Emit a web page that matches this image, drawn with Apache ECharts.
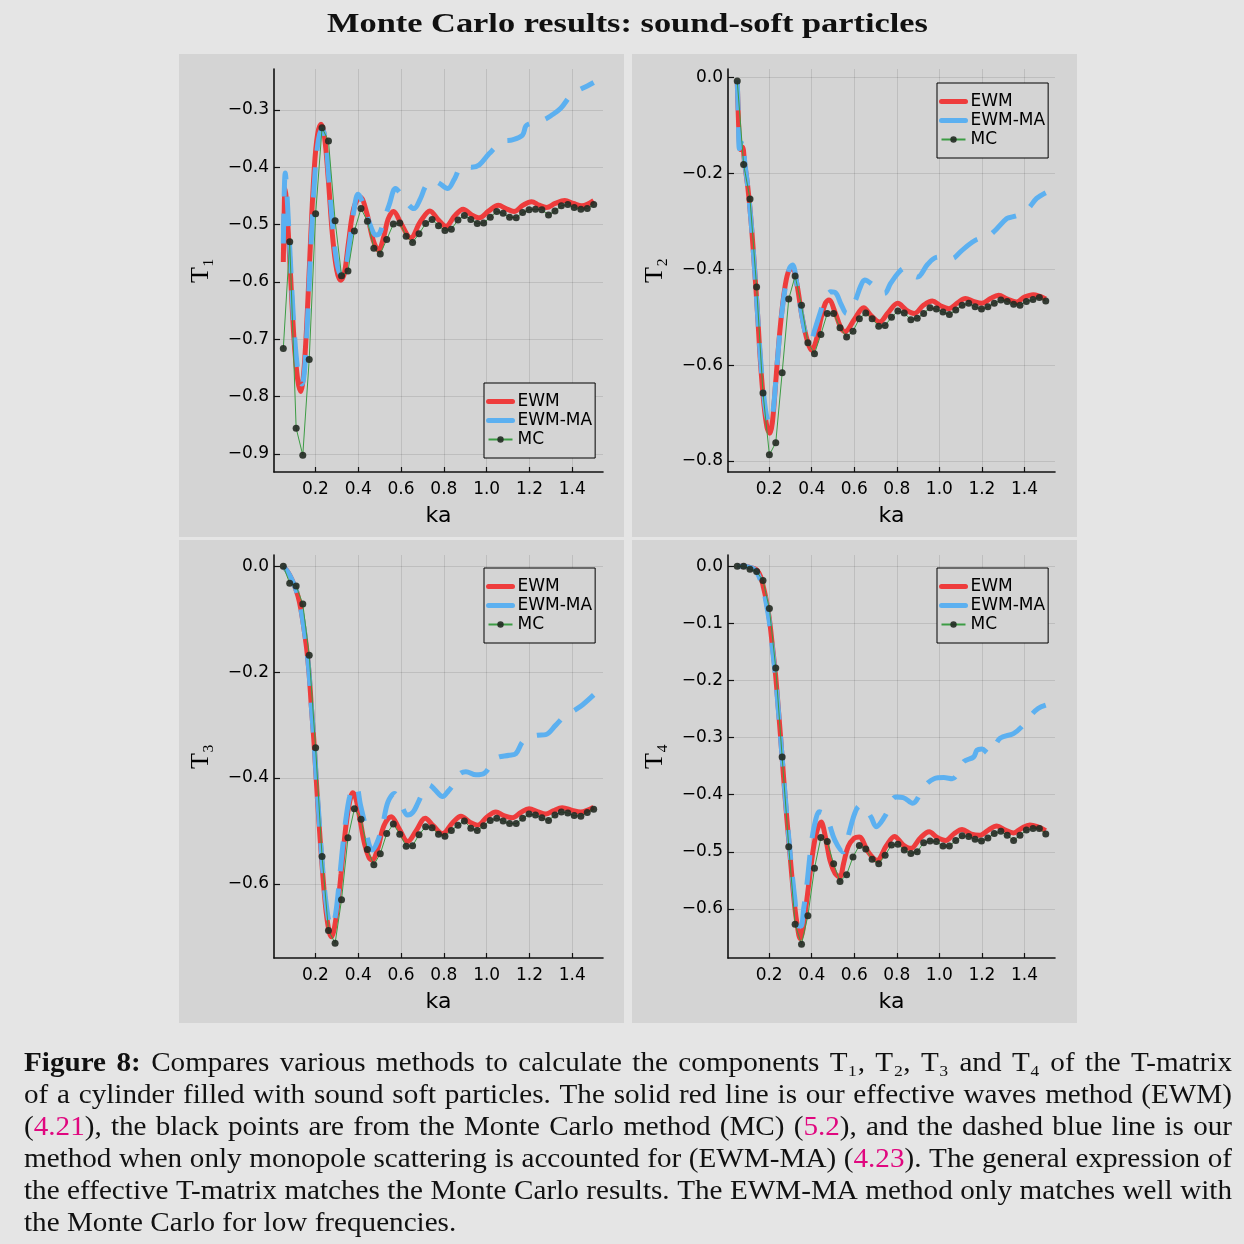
<!DOCTYPE html>
<html><head><meta charset="utf-8">
<script src="https://cdn.jsdelivr.net/npm/echarts@6.0.0/dist/echarts.min.js"></script>
<style>html,body{margin:0;padding:0;background:#e5e5e5}#c{width:1244px;height:1244px}</style>
</head><body><div id="c"></div>
<script>
// ---------------- DATA ----------------
const xTicks = [0.2, 0.4, 0.6, 0.8, 1.0, 1.2, 1.4];
const yTicks1 = [-0.9, -0.8, -0.7, -0.6, -0.5, -0.4, -0.3];
const yTicks2 = [-0.8, -0.6, -0.4, -0.2, 0.0];
const yTicks3 = [-0.6, -0.4, -0.2, 0.0];
const yTicks4 = [-0.6, -0.5, -0.4, -0.3, -0.2, -0.1, 0.0];

const kaMC = [0.050,0.080,0.110,0.141,0.171,0.201,0.231,0.261,0.292,0.322,0.352,0.382,0.413,0.443,0.473,0.503,0.533,0.564,0.594,0.624,0.654,0.684,0.715,0.745,0.775,0.805,0.835,0.866,0.896,0.926,0.956,0.986,1.017,1.047,1.077,1.107,1.138,1.168,1.198,1.228,1.258,1.289,1.319,1.349,1.379,1.409,1.440,1.470,1.500];

const t1MC = [-0.716,-0.530,-0.855,-0.902,-0.735,-0.481,-0.331,-0.354,-0.493,-0.589,-0.581,-0.511,-0.472,-0.494,-0.541,-0.551,-0.526,-0.499,-0.497,-0.520,-0.531,-0.516,-0.498,-0.491,-0.502,-0.510,-0.508,-0.492,-0.484,-0.491,-0.498,-0.497,-0.487,-0.477,-0.480,-0.487,-0.488,-0.479,-0.474,-0.473,-0.474,-0.483,-0.476,-0.467,-0.465,-0.470,-0.473,-0.472,-0.465];
const t2MC = [-0.007,-0.181,-0.253,-0.437,-0.658,-0.787,-0.762,-0.616,-0.462,-0.414,-0.475,-0.553,-0.576,-0.536,-0.492,-0.492,-0.522,-0.541,-0.529,-0.503,-0.491,-0.503,-0.519,-0.517,-0.500,-0.487,-0.491,-0.505,-0.502,-0.492,-0.480,-0.483,-0.489,-0.494,-0.485,-0.475,-0.471,-0.478,-0.483,-0.478,-0.471,-0.464,-0.467,-0.473,-0.475,-0.467,-0.463,-0.459,-0.466];
const t3MC = [0.000,-0.032,-0.037,-0.071,-0.168,-0.343,-0.548,-0.688,-0.712,-0.630,-0.513,-0.458,-0.478,-0.535,-0.564,-0.543,-0.505,-0.487,-0.506,-0.529,-0.528,-0.507,-0.492,-0.494,-0.506,-0.510,-0.499,-0.489,-0.481,-0.495,-0.499,-0.490,-0.480,-0.476,-0.481,-0.486,-0.486,-0.476,-0.468,-0.470,-0.475,-0.480,-0.470,-0.464,-0.466,-0.471,-0.472,-0.465,-0.459];
const t4MC = [0.000,0.000,-0.005,-0.009,-0.025,-0.074,-0.178,-0.334,-0.491,-0.627,-0.662,-0.612,-0.529,-0.475,-0.482,-0.521,-0.552,-0.540,-0.509,-0.489,-0.495,-0.513,-0.521,-0.506,-0.488,-0.487,-0.497,-0.503,-0.500,-0.484,-0.481,-0.482,-0.490,-0.490,-0.480,-0.472,-0.473,-0.478,-0.481,-0.476,-0.468,-0.464,-0.471,-0.480,-0.471,-0.462,-0.459,-0.459,-0.469];

// panel 1
const t1EwmKa = [0.050,0.054,0.058,0.064,0.080,0.100,0.117,0.131,0.145,0.160,0.177,0.195,0.210,0.226,0.242,0.260,0.280,0.300,0.318,0.335,0.355,0.380,0.410,0.440,0.470,0.495,0.520,0.540,0.565,0.600,0.645,0.690,0.735,0.775,0.810,0.850,0.890,0.930,0.966,1.010,1.055,1.090,1.128,1.170,1.210,1.245,1.280,1.320,1.365,1.405,1.445,1.500];
const t1Ewm   = [-0.565,-0.480,-0.437,-0.455,-0.560,-0.700,-0.770,-0.791,-0.760,-0.670,-0.530,-0.400,-0.343,-0.325,-0.345,-0.420,-0.520,-0.580,-0.597,-0.585,-0.530,-0.470,-0.452,-0.480,-0.527,-0.545,-0.520,-0.490,-0.477,-0.498,-0.523,-0.495,-0.476,-0.492,-0.503,-0.485,-0.473,-0.483,-0.488,-0.476,-0.466,-0.472,-0.477,-0.466,-0.460,-0.466,-0.470,-0.463,-0.458,-0.463,-0.467,-0.458];
const t1MaKa  = [0.050,0.054,0.059,0.066,0.080,0.100,0.120,0.137,0.150,0.165,0.180,0.198,0.215,0.232,0.248,0.265,0.285,0.305,0.325,0.340,0.360,0.380,0.399,0.420,0.450,0.484,0.500,0.518,0.545,0.574,0.600,0.623,0.660,0.690,0.717,0.750,0.779,0.818,0.850,0.885,0.930,0.965,1.012,1.074,1.120,1.167,1.183,1.200,1.268,1.300,1.346,1.400,1.432,1.470,1.500];
const t1Ma    = [-0.533,-0.450,-0.410,-0.440,-0.540,-0.680,-0.760,-0.778,-0.750,-0.650,-0.530,-0.410,-0.350,-0.333,-0.355,-0.430,-0.520,-0.575,-0.590,-0.580,-0.530,-0.475,-0.447,-0.460,-0.495,-0.518,-0.515,-0.495,-0.465,-0.437,-0.447,-0.460,-0.472,-0.455,-0.432,-0.423,-0.428,-0.437,-0.420,-0.398,-0.400,-0.396,-0.376,-0.355,-0.352,-0.344,-0.328,-0.324,-0.317,-0.310,-0.297,-0.271,-0.265,-0.258,-0.252];

// panel 2
const t2EwmKa = [0.050,0.055,0.062,0.068,0.075,0.085,0.100,0.115,0.130,0.145,0.160,0.175,0.190,0.203,0.215,0.230,0.250,0.270,0.290,0.310,0.330,0.355,0.380,0.400,0.420,0.445,0.465,0.481,0.510,0.535,0.556,0.600,0.644,0.680,0.719,0.760,0.804,0.845,0.882,0.925,0.967,1.005,1.045,1.085,1.123,1.160,1.200,1.240,1.278,1.320,1.363,1.400,1.441,1.500];
const t2Ewm   = [-0.007,-0.080,-0.148,-0.150,-0.145,-0.180,-0.230,-0.300,-0.390,-0.490,-0.600,-0.680,-0.730,-0.742,-0.720,-0.640,-0.530,-0.450,-0.405,-0.398,-0.430,-0.500,-0.550,-0.569,-0.550,-0.500,-0.470,-0.464,-0.490,-0.520,-0.530,-0.505,-0.480,-0.497,-0.510,-0.490,-0.471,-0.485,-0.492,-0.475,-0.466,-0.476,-0.482,-0.470,-0.461,-0.467,-0.471,-0.461,-0.454,-0.462,-0.468,-0.458,-0.453,-0.462];
const t2MaKa  = [0.050,0.055,0.060,0.068,0.075,0.085,0.100,0.115,0.130,0.145,0.160,0.175,0.190,0.206,0.220,0.235,0.255,0.275,0.295,0.310,0.330,0.355,0.375,0.393,0.415,0.440,0.463,0.490,0.512,0.540,0.564,0.585,0.605,0.630,0.649,0.680,0.715,0.742,0.770,0.804,0.835,0.865,0.897,0.944,0.985,1.021,1.060,1.100,1.146,1.192,1.208,1.255,1.317,1.348,1.380,1.418,1.457,1.500];
const t2Ma    = [-0.005,-0.080,-0.148,-0.135,-0.130,-0.175,-0.230,-0.300,-0.390,-0.490,-0.590,-0.665,-0.710,-0.722,-0.690,-0.610,-0.510,-0.440,-0.398,-0.391,-0.430,-0.500,-0.540,-0.551,-0.525,-0.490,-0.461,-0.447,-0.449,-0.475,-0.492,-0.480,-0.465,-0.435,-0.422,-0.430,-0.446,-0.450,-0.430,-0.409,-0.398,-0.408,-0.416,-0.390,-0.375,-0.374,-0.377,-0.363,-0.346,-0.336,-0.336,-0.322,-0.294,-0.290,-0.285,-0.273,-0.252,-0.240];

// panel 3
const t3EwmKa = [0.050,0.070,0.090,0.110,0.125,0.140,0.158,0.170,0.181,0.193,0.204,0.216,0.228,0.240,0.251,0.263,0.274,0.285,0.297,0.310,0.320,0.332,0.344,0.360,0.375,0.390,0.406,0.430,0.450,0.465,0.490,0.520,0.554,0.590,0.631,0.670,0.713,0.750,0.794,0.840,0.880,0.920,0.958,1.000,1.043,1.080,1.120,1.160,1.198,1.240,1.276,1.310,1.353,1.400,1.439,1.500];
const t3Ewm   = [0.000,-0.010,-0.025,-0.045,-0.067,-0.100,-0.152,-0.200,-0.265,-0.330,-0.404,-0.480,-0.549,-0.610,-0.656,-0.688,-0.700,-0.690,-0.662,-0.620,-0.580,-0.530,-0.486,-0.445,-0.428,-0.440,-0.473,-0.525,-0.550,-0.555,-0.535,-0.490,-0.473,-0.495,-0.520,-0.500,-0.476,-0.490,-0.505,-0.485,-0.472,-0.483,-0.489,-0.474,-0.464,-0.471,-0.475,-0.465,-0.458,-0.464,-0.468,-0.462,-0.456,-0.461,-0.464,-0.455];
const t3MaKa  = [0.050,0.070,0.090,0.110,0.125,0.140,0.158,0.170,0.181,0.193,0.204,0.216,0.228,0.240,0.251,0.263,0.276,0.288,0.300,0.315,0.330,0.345,0.360,0.375,0.391,0.410,0.429,0.450,0.465,0.490,0.515,0.539,0.569,0.600,0.631,0.655,0.678,0.705,0.732,0.760,0.794,0.820,0.849,0.875,0.903,0.950,0.989,1.043,1.105,1.136,1.167,1.200,1.237,1.276,1.323,1.369,1.410,1.447,1.500];
const t3Ma    = [0.000,-0.010,-0.025,-0.045,-0.067,-0.100,-0.152,-0.200,-0.265,-0.330,-0.400,-0.470,-0.540,-0.600,-0.640,-0.670,-0.681,-0.670,-0.640,-0.580,-0.520,-0.470,-0.435,-0.418,-0.417,-0.450,-0.483,-0.525,-0.536,-0.520,-0.486,-0.445,-0.429,-0.450,-0.470,-0.465,-0.448,-0.425,-0.413,-0.423,-0.435,-0.425,-0.410,-0.392,-0.388,-0.394,-0.391,-0.363,-0.357,-0.354,-0.332,-0.322,-0.319,-0.318,-0.300,-0.281,-0.272,-0.262,-0.243];

// panel 4
const t4EwmKa = [0.050,0.080,0.110,0.130,0.145,0.160,0.172,0.183,0.200,0.214,0.230,0.245,0.260,0.276,0.292,0.307,0.320,0.331,0.346,0.357,0.369,0.385,0.400,0.420,0.444,0.465,0.486,0.510,0.532,0.550,0.571,0.600,0.623,0.665,0.707,0.750,0.789,0.830,0.866,0.910,0.952,0.990,1.030,1.070,1.107,1.150,1.192,1.230,1.270,1.310,1.348,1.385,1.425,1.460,1.500];
const t4Ewm   = [0.000,0.000,-0.002,-0.004,-0.008,-0.018,-0.035,-0.053,-0.090,-0.135,-0.190,-0.258,-0.330,-0.410,-0.480,-0.544,-0.595,-0.626,-0.652,-0.640,-0.608,-0.560,-0.515,-0.470,-0.448,-0.475,-0.515,-0.538,-0.544,-0.520,-0.491,-0.476,-0.474,-0.500,-0.515,-0.490,-0.473,-0.488,-0.494,-0.476,-0.465,-0.475,-0.480,-0.468,-0.461,-0.469,-0.471,-0.462,-0.455,-0.462,-0.467,-0.459,-0.453,-0.456,-0.463];
const t4MaKa  = [0.050,0.080,0.110,0.130,0.145,0.160,0.172,0.183,0.200,0.214,0.230,0.245,0.260,0.276,0.292,0.307,0.320,0.338,0.350,0.362,0.375,0.385,0.400,0.418,0.435,0.455,0.478,0.509,0.548,0.563,0.579,0.600,0.618,0.640,0.656,0.680,0.703,0.742,0.796,0.830,0.874,0.928,0.975,1.020,1.060,1.115,1.161,1.177,1.200,1.231,1.286,1.348,1.390,1.425,1.464,1.500];
const t4Ma    = [0.000,0.000,-0.002,-0.005,-0.012,-0.025,-0.040,-0.058,-0.095,-0.140,-0.195,-0.260,-0.330,-0.405,-0.475,-0.535,-0.580,-0.630,-0.630,-0.600,-0.565,-0.530,-0.480,-0.445,-0.430,-0.433,-0.447,-0.480,-0.500,-0.485,-0.462,-0.435,-0.421,-0.419,-0.426,-0.440,-0.456,-0.439,-0.404,-0.405,-0.415,-0.386,-0.372,-0.370,-0.372,-0.342,-0.334,-0.322,-0.320,-0.328,-0.301,-0.293,-0.280,-0.263,-0.249,-0.243];

const seriesNames = ['EWM', 'EWM-MA', 'MC'];
const yNames = ['T\u2081', 'T\u2082', 'T\u2083', 'T\u2084'];
const titleText = 'Monte Carlo results: sound-soft particles';
const captionLines = [
  '*Figure 8:* Compares various methods to calculate the components T\u2081, T\u2082, T\u2083 and T\u2084 of the T-matrix',
  'of a cylinder filled with sound soft particles. The solid red line is our effective waves method (EWM)',
  '(\u00a74.21\u00a7), the black points are from the Monte Carlo method (MC) (\u00a75.2\u00a7), and the dashed blue line is our',
  'method when only monopole scattering is accounted for (EWM-MA) (\u00a74.23\u00a7). The general expression of',
  'the effective T-matrix matches the Monte Carlo results. The EWM-MA method only matches well with',
  'the Monte Carlo for low frequencies.'
];

// ---------------- LAYOUT ----------------
const zip = (a, b) => a.map((v, i) => [v, b[i]]);
const panels = [
  {bg:[179,54,445,483], grid:{left:274,top:69,width:329,height:403}, ymin:-0.9314, ymax:-0.2285, yt:yTicks1, leg:{left:484,top:383},
   ewm:zip(t1EwmKa,t1Ewm), ma:zip(t1MaKa,t1Ma), mc:zip(kaMC,t1MC)},
  {bg:[632,54,445,483], grid:{left:728,top:69,width:327,height:403}, ymin:-0.823, ymax:0.0182, yt:yTicks2, leg:{left:937,top:83},
   ewm:zip(t2EwmKa,t2Ewm), ma:zip(t2MaKa,t2Ma), mc:zip(kaMC,t2MC)},
  {bg:[179,540,445,483], grid:{left:274,top:555,width:329,height:403}, ymin:-0.74, ymax:0.0214, yt:yTicks3, leg:{left:484,top:568},
   ewm:zip(t3EwmKa,t3Ewm), ma:zip(t3MaKa,t3Ma), mc:zip(kaMC,t3MC)},
  {bg:[632,540,445,483], grid:{left:728,top:555,width:327,height:403}, ymin:-0.686, ymax:0.0198, yt:yTicks4, leg:{left:937,top:568},
   ewm:zip(t4EwmKa,t4Ewm), ma:zip(t4MaKa,t4Ma), mc:zip(kaMC,t4MC)}
];

const SANS = '"DejaVu Sans", sans-serif';
const SERIF = '"Liberation Serif", "DejaVu Serif", serif';
const RED = '#ee3c3c', BLUE = '#5cb0f0', GREEN = '#3c9c44', DOT = '#222a22';
const fmt = v => (v < -1e-9 ? '\u2212' : '') + Math.abs(v).toFixed(1);

const grids = [], xAxes = [], yAxes = [], series = [], legends = [], graphics = [];
panels.forEach((p, i) => {
  graphics.push({type:'rect', z:-10, silent:true, shape:{x:p.bg[0], y:p.bg[1], width:p.bg[2], height:p.bg[3]}, style:{fill:'#d4d4d4'}});
  grids.push(Object.assign({containLabel:false}, p.grid));
  xAxes.push({
    gridIndex:i, type:'value', min:0.0065, max:1.5435,
    name:'ka', nameLocation:'middle', nameGap:33,
    nameTextStyle:{fontSize:22, fontFamily:SANS, color:'#000'},
    axisLine:{show:true, onZero:false, lineStyle:{color:'#111', width:1.6}},
    axisTick:{show:true, inside:true, length:5, customValues:xTicks, lineStyle:{color:'#111', width:1.2}},
    axisLabel:{customValues:xTicks, formatter:v => v.toFixed(1), fontSize:17, fontFamily:SANS, color:'#000', margin:9},
    splitLine:{show:true, lineStyle:{color:'rgba(0,0,0,0.1)', width:1}}
  });
  yAxes.push({
    gridIndex:i, type:'value', min:p.ymin, max:p.ymax,
    name:yNames[i], nameLocation:'middle', nameGap:60,
    nameTextStyle:{fontSize:26, fontFamily:SERIF, color:'#000'},
    axisLine:{show:true, onZero:false, lineStyle:{color:'#111', width:1.6}},
    axisTick:{show:true, inside:true, length:6, customValues:p.yt, lineStyle:{color:'#111', width:1.2}},
    axisLabel:{customValues:p.yt, formatter:fmt, fontSize:17, fontFamily:SANS, color:'#000', margin:5},
    splitLine:{show:true, lineStyle:{color:'rgba(0,0,0,0.1)', width:1}}
  });
  series.push({name:seriesNames[0], type:'line', xAxisIndex:i, yAxisIndex:i, data:p.ewm, smooth:0.35, symbol:'none',
    lineStyle:{color:RED, width:5}, itemStyle:{color:RED}, z:2});
  series.push({name:seriesNames[1], type:'line', xAxisIndex:i, yAxisIndex:i, data:p.ma, smooth:0.35, symbol:'none',
    lineStyle:{color:BLUE, width:5, type:[30,17]}, itemStyle:{color:BLUE}, z:3});
  series.push({name:seriesNames[2], type:'line', xAxisIndex:i, yAxisIndex:i, data:p.mc, symbol:'circle', symbolSize:7, showSymbol:true,
    lineStyle:{color:GREEN, width:1}, itemStyle:{color:DOT, borderWidth:0, opacity:0.9}, z:4});
  legends.push({
    data:[
      {name:seriesNames[0], itemStyle:{opacity:0}, lineStyle:{width:5, color:RED, type:'solid', cap:'round'}},
      {name:seriesNames[1], itemStyle:{opacity:0}, lineStyle:{width:5, color:BLUE, type:'solid', cap:'round'}},
      {name:seriesNames[2]}
    ],
    orient:'vertical', left:p.leg.left, top:p.leg.top,
    padding:[9,3,9,2], itemGap:0, itemWidth:24, itemHeight:8,
    borderColor:'#000', borderWidth:1, borderRadius:0, backgroundColor:'#d4d4d4',
    textStyle:{fontSize:17, fontFamily:SANS, color:'#000', lineHeight:19}, selectedMode:false
  });
});

// ---- title & caption text ----
const mctx = document.createElement('canvas').getContext('2d');
function measure(t, size, bold, fam){ mctx.font = (bold ? 'bold ' : '') + size + 'px ' + fam; return mctx.measureText(t).width; }

const T_SIZE = 27;
const tW = measure(titleText, T_SIZE, true, SERIF);
const tScale = 601 / tW;
graphics.push({type:'text', x:327, y:25, scaleX:tScale, silent:true,
  style:{text:titleText, fontSize:T_SIZE, fontWeight:'bold', fontFamily:SERIF, fill:'#111', align:'left', verticalAlign:'middle'}});

const CAP_SIZE = 26.5, CAP_SX = 1.1, CAP_X0 = 24, CAP_X1 = 1232, CAP_Y0 = 1064, CAP_DY = 32;
let bold = false, mag = false;
captionLines.forEach((line, li) => {
  const words = line.split(' ').map(w => {
    const segs = []; let cur = '';
    for (const ch of w) {
      if (ch === '*' || ch === '\u00a7') {
        if (cur) segs.push({t:cur, bold, mag});
        cur = '';
        if (ch === '*') bold = !bold; else mag = !mag;
      } else cur += ch;
    }
    if (cur) segs.push({t:cur, bold, mag});
    segs.forEach(s => s.w = measure(s.t, CAP_SIZE, s.bold, SERIF) * CAP_SX);
    return {segs, w: segs.reduce((a, s) => a + s.w, 0)};
  });
  const total = words.reduce((a, w) => a + w.w, 0);
  const last = li === captionLines.length - 1;
  const gap = last ? measure(' ', CAP_SIZE, false, SERIF) * CAP_SX : (CAP_X1 - CAP_X0 - total) / (words.length - 1);
  let x = CAP_X0;
  const y = CAP_Y0 + li * CAP_DY;
  words.forEach(w => {
    w.segs.forEach(s => {
      graphics.push({type:'text', x:x, y:y, scaleX:CAP_SX, silent:true,
        style:{text:s.t, fontSize:CAP_SIZE, fontWeight:s.bold ? 'bold' : 'normal', fontFamily:SERIF,
               fill:s.mag ? '#e0077f' : '#111', align:'left', verticalAlign:'middle'}});
      x += s.w;
    });
    x += gap;
  });
});

const chart = echarts.init(document.getElementById('c'), null, {renderer:'canvas', width:1244, height:1244});
chart.setOption({
  backgroundColor:'#e5e5e5',
  animation:false,
  grid:grids, xAxis:xAxes, yAxis:yAxes, series:series, legend:legends,
  graphic:{elements:graphics}
});
</script>
</body></html>
